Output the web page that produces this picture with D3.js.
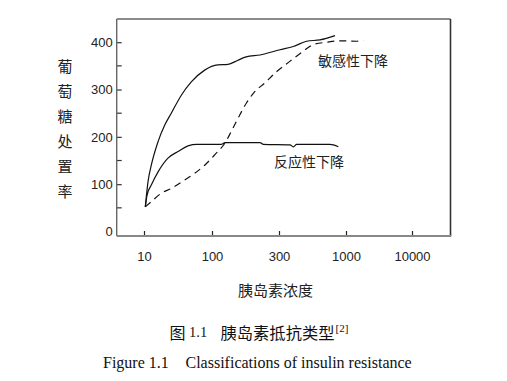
<!DOCTYPE html>
<html>
<head>
<meta charset="utf-8">
<script src="https://cdn.jsdelivr.net/npm/d3@7"></script>
<style>
  html, body { margin: 0; padding: 0; background: #fff; }
  svg { display: block; }
</style>
</head>
<body>
<script>
// ---- data ----
const xTickValues = [10, 100, 300, 1000, 10000];
const yTickValues = [0, 100, 200, 300, 400];
const yMinorTicks = [50, 150, 250, 350];

// normal response curve (upper solid)
const normalX = [10.45, 11.45, 12.8, 16.1, 20.2, 25.2, 35.4, 49.6, 78, 110, 130, 153, 175, 220, 305, 388, 493, 627, 821];
const normalY = [52, 105, 140, 190, 225, 250, 288, 316, 341, 352, 353, 362, 369, 373, 384, 391, 402, 405, 414];

// 反应性下降 (lower solid)
const responseX = [10.45, 11.1, 12.8, 16.1, 22.5, 31.6, 44.4, 60, 93.5, 116, 124, 220, 232, 366, 388, 412, 750, 871];
const responseY = [52, 77, 98, 126, 155, 169, 181, 184, 184, 184, 188, 188, 184, 183, 179, 184, 184, 179];

// 敏感性下降 (dashed)
const sensX = [10.45, 12.8, 18, 25.2, 39.7, 55.7, 78, 104.5, 123, 137, 153, 175.5, 197, 238, 289, 366, 464, 556, 707, 898, 1453, 1830];
const sensY = [52, 63, 81, 91, 109, 123, 140, 162, 186, 211, 239, 271, 292, 314, 338, 360, 381, 395, 400, 403, 402, 404];

const yAxisTitle = ["葡", "萄", "糖", "处", "置", "率"];
const xAxisTitle = "胰岛素浓度";
const labelSens = "敏感性下降";
const labelResp = "反应性下降";

// ---- layout ----
const W = 507, H = 381;
const box = { left: 116.7, right: 450.5, top: 19, bottom: 236 };

const svg = d3.select("body").append("svg")
  .attr("width", W).attr("height", H)
  .style("font-family", "'DejaVu Sans', Verdana, sans-serif");

const x = d3.scaleLog().domain(xTickValues).range([144, 212, 279, 346, 412]);
const y = d3.scaleLinear().domain([0, 400]).range([231.5, 42.2]);

// frame
svg.append("line").attr("x1", box.left).attr("x2", box.right).attr("y1", box.top).attr("y2", box.top)
  .attr("stroke", "#666").attr("stroke-width", 1.3);
svg.append("line").attr("x1", box.right).attr("x2", box.right).attr("y1", box.top).attr("y2", box.bottom)
  .attr("stroke", "#333").attr("stroke-width", 1.6);

// y axis
const yAxis = d3.axisLeft(y).tickValues(yTickValues).tickSize(-5).tickPadding(4).tickFormat(d3.format("d"));
const gy = svg.append("g").attr("transform", `translate(${box.left},0)`).call(yAxis);
gy.select(".domain").remove();
gy.selectAll(".tick line").attr("stroke", "#333").attr("stroke-width", 1.2)
  .filter(d => d === 0).remove();
gy.selectAll(".tick text").attr("fill", "#222").style("font-size", "13px");
svg.append("g").selectAll("line").data(yMinorTicks).join("line")
  .attr("x1", box.left).attr("x2", box.left + 5)
  .attr("y1", d => y(d)).attr("y2", d => y(d))
  .attr("stroke", "#333").attr("stroke-width", 1.2);
svg.append("line").attr("x1", box.left).attr("x2", box.left).attr("y1", box.top).attr("y2", box.bottom)
  .attr("stroke", "#666").attr("stroke-width", 1.4);

// x axis
const xAxis = d3.axisBottom(x).tickValues(xTickValues).tickSize(-5).tickPadding(16).tickFormat(d3.format("d"));
const gx = svg.append("g").attr("transform", `translate(0,${box.bottom})`).call(xAxis);
gx.select(".domain").remove();
gx.selectAll(".tick line").attr("stroke", "#222").attr("stroke-width", 1.2);
gx.selectAll(".tick text").attr("fill", "#222").style("font-size", "13px");
svg.append("line").attr("x1", box.left).attr("x2", box.right + 0.8).attr("y1", box.bottom).attr("y2", box.bottom)
  .attr("stroke", "#888").attr("stroke-width", 2);

// curves
const line = d3.line().x(d => x(d[0])).y(d => y(d[1])).curve(d3.curveMonotoneX);
const series = [
  { xs: normalX, ys: normalY, dash: null },
  { xs: responseX, ys: responseY, dash: null },
  { xs: sensX, ys: sensY, dash: "7,5" }
];
series.forEach(s => {
  svg.append("path")
    .datum(s.xs.map((v, i) => [v, s.ys[i]]))
    .attr("d", line)
    .attr("fill", "none")
    .attr("stroke", "#111")
    .attr("stroke-width", 1.2)
    .attr("stroke-dasharray", s.dash);
});

const cjk = "'Noto Sans CJK SC', 'Noto Sans', sans-serif";

// curve labels
svg.append("text").text(labelSens).attr("x", 318).attr("y", 59.5)
  .attr("dominant-baseline", "central").style("font-family", cjk).style("font-size", "14px").attr("fill", "#222");
svg.append("text").text(labelResp).attr("x", 274).attr("y", 161)
  .attr("dominant-baseline", "central").style("font-family", cjk).style("font-size", "14px").attr("fill", "#222");

// y axis title (vertical)
svg.append("g").selectAll("text").data(yAxisTitle).join("text")
  .text(d => d)
  .attr("x", 65).attr("y", (d, i) => 65 + i * 25)
  .attr("text-anchor", "middle").attr("dominant-baseline", "central")
  .style("font-family", cjk).style("font-size", "15px").attr("fill", "#222");

// x axis title
svg.append("text").text(xAxisTitle).attr("x", 275.5).attr("y", 289)
  .attr("text-anchor", "middle").attr("dominant-baseline", "central")
  .style("font-family", cjk).style("font-size", "15px").attr("fill", "#222");

// captions
const serif = "'Liberation Serif', 'Times New Roman', serif";
svg.append("text").text("图").attr("x", 169.5).attr("y", 332)
  .attr("dominant-baseline", "central").style("font-family", cjk).style("font-size", "16px").attr("fill", "#111");
svg.append("text").text("1.1").attr("x", 189).attr("y", 332)
  .attr("dominant-baseline", "central").style("font-family", serif).style("font-size", "14.5px").attr("fill", "#111");
svg.append("text").text("胰岛素抵抗类型").attr("x", 220.5).attr("y", 332)
  .attr("dominant-baseline", "central").style("font-family", cjk).style("font-size", "16.3px").attr("fill", "#111");
svg.append("text").text("[2]").attr("x", 335.5).attr("y", 328)
  .attr("dominant-baseline", "central").style("font-family", serif).style("font-size", "11px").attr("fill", "#111");

svg.append("text").text("Figure 1.1").attr("x", 103).attr("y", 362.5)
  .attr("dominant-baseline", "central").style("font-family", serif).style("font-size", "16px").attr("fill", "#111");
svg.append("text").text("Classifications of insulin resistance").attr("x", 185.5).attr("y", 362.5)
  .attr("dominant-baseline", "central").style("font-family", serif).style("font-size", "16px").attr("fill", "#111");
</script>
</body>
</html>
